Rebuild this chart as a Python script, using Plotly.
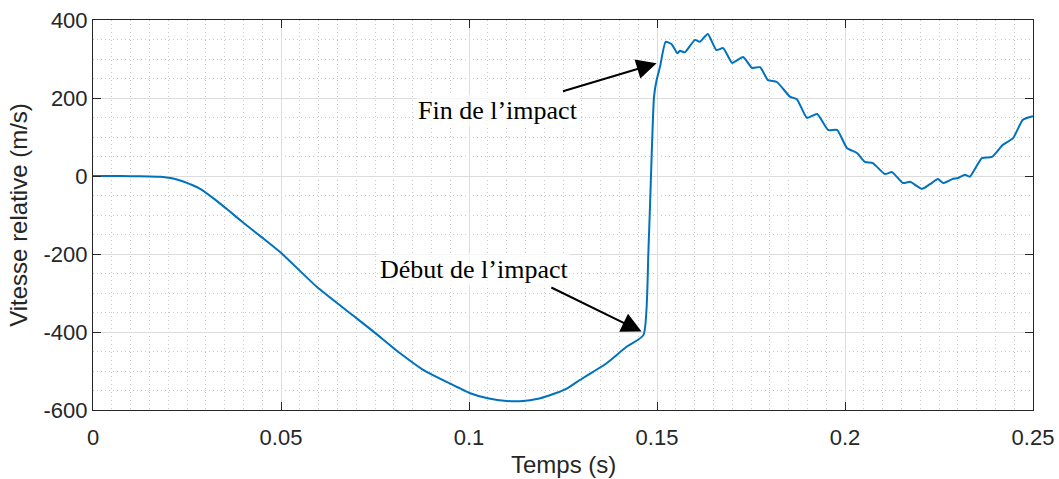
import plotly.graph_objects as go

# Données
temps = [0.000, 0.005, 0.010, 0.015, 0.018, 0.021, 0.024, 0.0285, 0.0324, 0.036,
         0.040, 0.045, 0.050, 0.0595, 0.0684, 0.0746, 0.0816, 0.0878, 0.0949, 0.1003,
         0.1050, 0.1100, 0.1144, 0.1180, 0.1215, 0.1260, 0.1295, 0.1330, 0.1366, 0.1419,
         0.1464, 0.1477, 0.1486, 0.1492, 0.1499, 0.1508, 0.1523, 0.1539, 0.1554, 0.1561,
         0.1574, 0.1601, 0.1614, 0.1635, 0.1658, 0.1676, 0.1700, 0.1729, 0.1753, 0.1774,
         0.1795, 0.1819, 0.1854, 0.1872, 0.1899, 0.1926, 0.1955, 0.1979, 0.2005, 0.2032,
         0.2053, 0.2074, 0.2106, 0.2125, 0.2154, 0.2173, 0.2205, 0.2226, 0.2247, 0.2261,
         0.2285, 0.2301, 0.2319, 0.2332, 0.2364, 0.2391, 0.2420, 0.2447, 0.2473, 0.2500]
vitesse = [0, 0, -0.5, -1, -2, -6, -14, -33, -60, -88,
           -120, -158, -197, -284, -352, -399, -454, -497, -532, -557,
           -570, -577, -577, -572, -562, -545, -523, -502, -480, -438,
           -408, -198, 59, 203, 246, 280, 344, 338, 315, 321,
           317, 349, 344, 364, 323, 328, 290, 305, 277, 279,
           246, 241, 203, 197, 149, 159, 118, 118, 72, 59,
           36, 33, 5, 10, -18, -15, -33, -21, -8, -18,
           -8, -5, 3, -2, 46, 49, 80, 97, 144, 153]

x_ticks = [0, 0.05, 0.1, 0.15, 0.2, 0.25]
x_labels = ["0", "0.05", "0.1", "0.15", "0.2", "0.25"]
y_ticks = [-600, -400, -200, 0, 200, 400]
y_labels = ["-600", "-400", "-200", "0", "200", "400"]

# annotations : texte, position du texte, pointe et queue de la flèche
fin_texte = "Fin de l’impact"
fin_pos = (0.1077, 169)
fin_pointe = (0.1499, 289)
fin_queue = (0.1246, 216)

debut_texte = "Début de l’impact"
debut_pos = (0.1013, -241)
debut_pointe = (0.1459, -399)
debut_queue = (0.1215, -284)

fig = go.Figure()

fig.add_trace(go.Scatter(
    x=temps,
    y=vitesse,
    mode='lines',
    line=dict(color='#0072BD', width=2, shape='spline', smoothing=0.5),
    showlegend=False
))

axe = dict(
    showline=True,
    linecolor='#262626',
    linewidth=1,
    mirror='ticks',
    ticks='inside',
    ticklen=8,
    tickcolor='#262626',
    showgrid=True,
    gridcolor='#dcdcdc',
    gridwidth=1,
    zeroline=False,
    automargin=False,
    ticklabeloverflow='allow',
    tickfont=dict(family='Liberation Sans, Arial', size=22, color='#262626'),
)
titre_font = dict(family='Liberation Sans, Arial', size=24, color='#262626')
mineur = dict(showgrid=True, griddash='1px,3px', gridcolor='#c8c8c8', gridwidth=1)

fig.update_xaxes(
    **axe,
    range=[0, 0.25],
    tickvals=x_ticks,
    ticktext=x_labels,
    ticklabelstandoff=8,
    minor=dict(dtick=0.005, **mineur),
)
fig.update_yaxes(
    **axe,
    range=[-600, 400],
    tickvals=y_ticks,
    ticktext=y_labels,
    minor=dict(dtick=50, **mineur),
    title=dict(text='Vitesse relative (m/s)', font=titre_font, standoff=9),
)

# titre de l'axe x placé sous les graduations
fig.add_annotation(
    x=0.5, y=-0.141, xref='paper', yref='paper', yanchor='middle',
    text='Temps (s)', showarrow=False, font=titre_font
)

police_annot = dict(family='Liberation Serif, Times New Roman', size=26, color='black')

for texte, pos in [(fin_texte, fin_pos), (debut_texte, debut_pos)]:
    fig.add_annotation(
        x=pos[0], y=pos[1], text=texte, showarrow=False,
        font=police_annot, bgcolor='rgba(255,255,255,0.75)'
    )

for pointe, queue in [(fin_pointe, fin_queue), (debut_pointe, debut_queue)]:
    fig.add_annotation(
        x=pointe[0], y=pointe[1], ax=queue[0], ay=queue[1],
        axref='x', ayref='y', text='', showarrow=True,
        arrowhead=2, arrowsize=2, arrowwidth=2, arrowcolor='black', standoff=0
    )

fig.update_layout(
    width=1059,
    height=479,
    margin=dict(l=93, r=26, t=20, b=69),
    paper_bgcolor='white',
    plot_bgcolor='white',
)

# supprime la marge par défaut de la page pour que la figure occupe toute la fenêtre
fig.write_html("out.html", config={'displayModeBar': False},
               post_script="document.body.style.margin='0';")
